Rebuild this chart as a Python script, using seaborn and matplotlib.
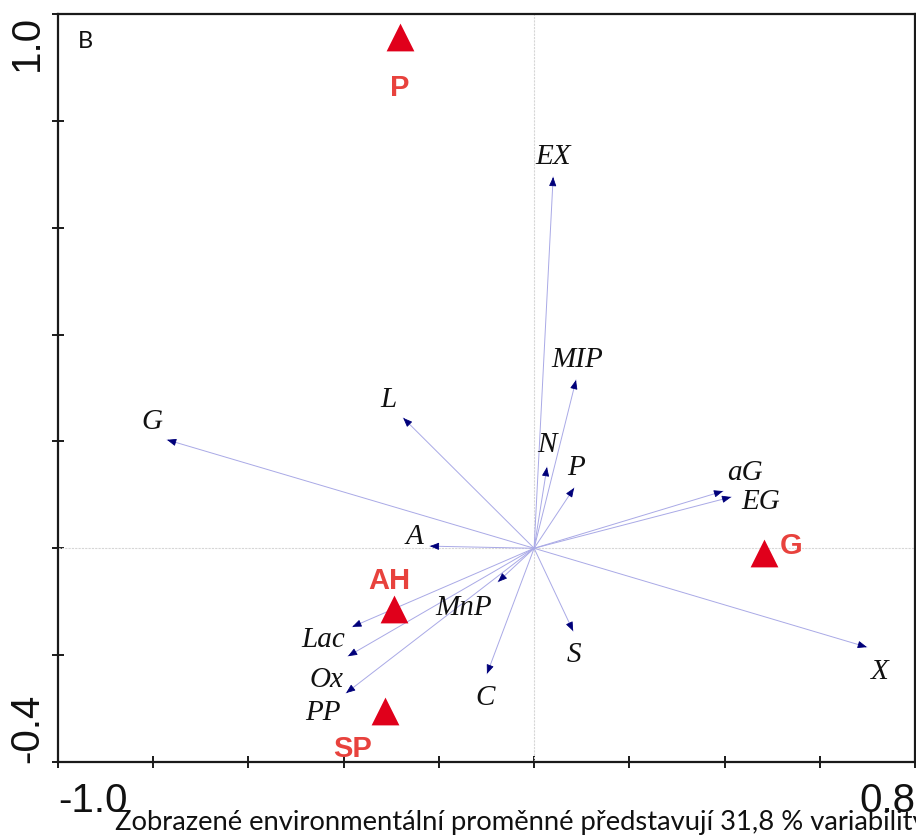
import numpy as np
import matplotlib
matplotlib.use("Agg")
import matplotlib.pyplot as plt
import seaborn as sns
import pandas as pd

# ---------------- data ----------------
env_names = ['EX', 'MIP', 'N', 'P', 'aG', 'EG', 'G', 'L', 'A',
             'Lac', 'Ox', 'PP', 'MnP', 'C', 'S', 'X']
env_x = [0.040, 0.088, 0.027, 0.084, 0.397, 0.414, -0.771, -0.275, -0.219,
         -0.382, -0.391, -0.395, -0.076, -0.099, 0.082, 0.699]
env_y = [0.695, 0.315, 0.152, 0.113, 0.107, 0.096, 0.203, 0.244, 0.004,
         -0.147, -0.202, -0.271, -0.063, -0.235, -0.155, -0.185]

grp_names = ['P', 'G', 'AH', 'SP']
grp_x = [-0.282, 0.483, -0.294, -0.313]
grp_y = [0.957, -0.009, -0.114, -0.305]

x_ticks = [-1.0, -0.8, -0.6, -0.4, -0.2, 0.0, 0.2, 0.4, 0.6, 0.8]
x_ticklabels = ['-1.0', '', '', '', '', '', '', '', '', '0.8']
y_ticks = [-0.4, -0.2, 0.0, 0.2, 0.4, 0.6, 0.8, 1.0]
y_ticklabels = ['-0.4', '', '', '', '', '', '', '1.0']

panel_label = 'B'
caption = 'Zobrazené environmentální proměnné představují 31,8 % variability'

# ---------------- styling / label offsets (pixels) ----------------
env_offsets = {'EX': (0, 21), 'MIP': (1, 21), 'N': (0, 23), 'P': (2, 21),
               'aG': (22, 19), 'EG': (29, -4), 'G': (-15, 19), 'L': (-15, 19),
               'A': (-15, 10), 'Lac': (-29, -12), 'Ox': (-21, -23),
               'PP': (-23, -19), 'MnP': (-34, -25), 'C': (-2, -23),
               'S': (1, -23), 'X': (13, -24)}
grp_offsets = {'P': (0, -50), 'G': (27, 8), 'AH': (-5, 29), 'SP': (-33, -37)}

sns.set_style('white')
plt.rcParams['font.family'] = ['Liberation Sans', 'DejaVu Sans']

W, H = 916, 837
fig = plt.figure(figsize=(W / 100, H / 100), dpi=100)
ax = fig.add_axes([58 / W, (H - 763) / H, (915 - 58) / W, (763 - 15) / H])

ax.set_xlim(-1.0, 0.8)
ax.set_ylim(-0.4, 1.0)

# cross lines through origin
ax.axhline(0, color='#d6d6d6', lw=0.8, ls=(0, (2, 1)), zorder=1)
ax.axvline(0, color='#d6d6d6', lw=0.8, ls=(0, (2, 1)), zorder=1)

# environmental vectors
for name, x, y in zip(env_names, env_x, env_y):
    ax.plot([0, x], [0, y], color='#a9a9e6', lw=0.7, zorder=2)
    L = np.hypot(x, y)
    ux, uy = x / L, y / L
    ax.annotate('', xy=(x, y), xytext=(x - 0.004 * ux, y - 0.004 * uy),
                arrowprops=dict(arrowstyle='-|>,head_length=0.55,head_width=0.22',
                                color='#00007a', lw=0.6, shrinkA=0, shrinkB=0,
                                mutation_scale=10),
                zorder=3)
    dx, dy = env_offsets[name]
    ax.annotate(name, xy=(x, y), xytext=(dx, dy), textcoords='offset pixels',
                ha='center', va='center', fontsize=21, style='italic',
                family=['Liberation Serif', 'DejaVu Serif'], color='#111111',
                zorder=4)

# group centroids (triangles)
df_grp = pd.DataFrame({'x': grp_x, 'y': grp_y, 'name': grp_names})
sns.scatterplot(data=df_grp, x='x', y='y', marker='^', s=400, color='#e0001b',
                linewidth=0, ax=ax, zorder=5, legend=False)
for name, x, y in zip(grp_names, grp_x, grp_y):
    dx, dy = grp_offsets[name]
    ax.annotate(name, xy=(x, y), xytext=(dx, dy), textcoords='offset pixels',
                ha='center', va='center', fontsize=21, fontweight='bold',
                color='#e8423d', zorder=6)

ax.set_xlabel('')
ax.set_ylabel('')

# spines and ticks
for sp in ax.spines.values():
    sp.set_visible(True)
    sp.set_color('#1a1a1a')
    sp.set_linewidth(1.6)

ax.set_xticks(x_ticks)
ax.set_xticklabels(x_ticklabels)
ax.set_yticks(y_ticks)
ax.set_yticklabels(y_ticklabels, rotation=90)
ax.tick_params(axis='both', which='major', bottom=True, left=True,
               top=False, right=False,
               direction='inout', length=9, width=1.4,
               color='#1a1a1a', labelsize=29, labelcolor='#111111')
ax.tick_params(axis='x', pad=9)
ax.tick_params(axis='y', pad=4)

xl = ax.get_xticklabels()
xl[0].set_ha('left')
xl[-1].set_ha('right')
yl = ax.get_yticklabels()
yl[0].set_va('bottom')
yl[-1].set_va('top')

ax.text(0.023, 0.964, panel_label, transform=ax.transAxes, ha='left',
        va='center', fontsize=17, family=['Lato', 'DejaVu Sans'], color='#111111')

# caption, fitted to the visible width
visible = 'Zobrazené environmentální proměnné představují 31,8 % variabilit'
renderer = fig.canvas.get_renderer()
probe = fig.text(0, 0, visible, fontsize=20, family=['Lato', 'DejaVu Sans'])
wpx = probe.get_window_extent(renderer).width
probe.remove()
fs = 20 * (916 - 115) / wpx
fig.text(115 / W, 7 / H, caption, fontsize=fs, family=['Lato', 'DejaVu Sans'],
         ha='left', va='baseline', color='#111111')

fig.savefig('out.png', dpi=100)
